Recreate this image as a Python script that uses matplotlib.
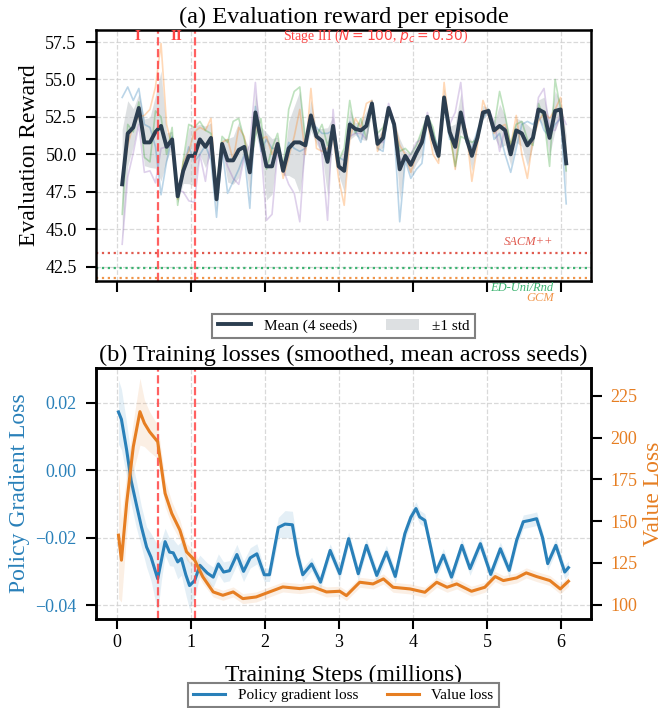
import numpy as np
import matplotlib
matplotlib.use("Agg")
import matplotlib.pyplot as plt

plt.rcParams["font.family"] = ["Liberation Serif", "DejaVu Serif"]
plt.rcParams["axes.linewidth"] = 1.8

# ---- (a) evaluation reward, one value per eval point, 4 seeds ----
EVAL_START, EVAL_END, N_EVAL = 0.07, 6.07, 81

seed_blue = [53.8, 54.5, 53.6, 54.4, 52.0, 51.8, 50.5, 47.3, 49.5, 51.2,
             47.6, 49.0, 50.5, 49.5, 50.0, 50.6, 49.6, 45.8, 50.4, 47.4,
             48.2, 49.0, 50.0, 46.4, 53.2, 50.2, 51.0, 50.4, 50.4, 49.2,
             50.8, 50.4, 50.2, 50.4, 52.0, 51.8, 51.4, 51.4, 51.6, 49.8,
             49.6, 52.2, 51.6, 50.8, 52.2, 53.6, 50.4, 50.2, 53.2, 51.6,
             45.5, 49.6, 48.4, 49.0, 49.4, 52.4, 51.4, 50.4, 53.2, 51.0,
             51.0, 52.6, 50.8, 50.4, 51.6, 52.4, 53.0, 51.0, 51.4, 50.0,
             48.8, 50.4, 52.0, 52.2, 52.0, 52.6, 51.6, 51.2, 52.0, 52.4,
             46.7]
seed_orange = [48.2, 50.6, 52.0, 52.5, 52.6, 53.0, 54.5, 57.4, 52.0, 50.5,
               47.0, 49.5, 50.2, 51.5, 51.8, 51.6, 52.4, 47.0, 50.8, 51.0,
               49.6, 51.8, 51.2, 49.0, 52.0, 51.0, 51.2, 50.0, 50.8, 48.4,
               49.8, 51.2, 53.0, 50.0, 54.4, 50.4, 50.2, 50.4, 51.2, 48.4,
               46.6, 51.0, 52.4, 51.8, 53.4, 53.6, 50.2, 51.6, 53.0, 52.2,
               50.6, 50.0, 48.8, 50.0, 51.2, 52.2, 50.0, 49.4, 54.8, 51.6,
               49.0, 52.6, 51.6, 48.2, 50.6, 53.6, 52.6, 51.4, 51.8, 52.0,
               50.6, 52.6, 50.0, 48.4, 51.0, 52.2, 52.8, 52.4, 53.0, 53.8,
               50.0]
seed_green = [46.0, 52.0, 51.5, 53.5, 49.8, 49.5, 52.9, 52.5, 50.0, 51.8,
              46.6, 49.6, 52.0, 51.8, 52.2, 51.6, 51.4, 47.8, 51.2, 50.8,
              52.2, 52.4, 51.0, 49.2, 51.2, 52.4, 49.0, 50.4, 51.4, 49.0,
              53.0, 54.2, 54.5, 51.0, 52.0, 51.2, 52.0, 50.6, 51.8, 49.6,
              50.4, 53.6, 51.4, 52.4, 51.0, 53.2, 51.4, 51.8, 52.8, 52.0,
              50.2, 50.4, 50.0, 50.6, 51.6, 52.6, 51.8, 49.8, 53.6, 51.4,
              49.2, 51.2, 51.0, 50.8, 51.0, 52.6, 53.0, 51.8, 54.2, 52.6,
              50.6, 52.0, 52.2, 51.0, 50.6, 53.4, 52.4, 49.2, 55.0, 53.0,
              48.9]
seed_purple = [44.0, 48.5, 50.1, 52.0, 48.8, 48.9, 48.1, 50.4, 50.5, 50.5,
               47.6, 47.5, 46.9, 46.8, 50.0, 48.2, 51.0, 47.4, 50.4, 49.2,
               48.4, 48.0, 49.8, 50.6, 54.8, 50.4, 45.6, 46.0, 50.2, 49.0,
               48.0, 47.4, 45.5, 51.0, 52.0, 51.4, 50.0, 45.6, 53.0, 49.0,
               49.0, 51.2, 51.4, 51.4, 51.0, 53.2, 50.8, 50.8, 53.4, 52.2,
               49.7, 49.6, 50.0, 50.8, 51.0, 52.8, 50.8, 50.0, 53.6, 52.0,
               52.8, 54.8, 51.0, 50.2, 51.2, 52.6, 53.0, 52.2, 50.2, 51.8,
               50.0, 51.4, 51.4, 50.8, 50.8, 53.8, 54.4, 51.6, 51.6, 52.8,
               52.0]

baseline_names = ["SACM++", "ED-Uni/Rnd", "GCM"]
baseline_values = [43.4, 42.4, 41.75]
baseline_colors = ["#e05a4f", "#3cb371", "#f0954a"]

stage_bounds = [0.55, 1.05]

# ---- (b) smoothed training losses ----
pg_steps = [0.02, 0.06, 0.13, 0.19, 0.26, 0.33, 0.40, 0.46, 0.55, 0.60,
            0.65, 0.71, 0.76, 0.82, 0.87, 0.93, 0.98, 1.05, 1.12, 1.22,
            1.30, 1.37, 1.44, 1.52, 1.62, 1.71, 1.80, 1.89, 1.99, 2.06,
            2.12, 2.18, 2.27, 2.37, 2.44, 2.51, 2.63, 2.75, 2.88, 3.01,
            3.13, 3.26, 3.37, 3.51, 3.64, 3.76, 3.89, 3.97, 4.04, 4.09,
            4.16, 4.24, 4.31, 4.41, 4.52, 4.66, 4.77, 4.91, 5.05, 5.18,
            5.30, 5.40, 5.49, 5.58, 5.67, 5.75, 5.82, 5.93, 6.05, 6.10]
pg_loss = [0.0172, 0.0150, 0.0060, -0.0030, -0.0100, -0.0168, -0.0228, -0.0258, -0.0322, -0.0267,
           -0.0212, -0.0243, -0.0245, -0.0272, -0.0262, -0.0310, -0.0342, -0.0327, -0.0282, -0.0305,
           -0.0317, -0.0278, -0.0302, -0.0298, -0.0250, -0.0300, -0.0260, -0.0248, -0.0310, -0.0310,
           -0.0240, -0.0170, -0.0160, -0.0162, -0.0250, -0.0310, -0.0278, -0.0332, -0.0238, -0.0307,
           -0.0203, -0.0307, -0.0223, -0.0312, -0.0243, -0.0315, -0.0188, -0.0140, -0.0114, -0.0139,
           -0.0149, -0.0230, -0.0302, -0.0252, -0.0317, -0.0223, -0.0292, -0.0218, -0.0309, -0.0233,
           -0.0297, -0.0208, -0.0153, -0.0149, -0.0144, -0.0200, -0.0277, -0.0223, -0.0302, -0.0289]
pg_std = [0.0095, 0.009, 0.008, 0.007, 0.007, 0.006, 0.006, 0.007, 0.010, 0.006,
          0.004, 0.004, 0.004, 0.005, 0.005, 0.006, 0.007, 0.005, 0.003, 0.003,
          0.003, 0.003, 0.003, 0.003, 0.003, 0.003, 0.003, 0.003, 0.002, 0.002,
          0.003, 0.003, 0.004, 0.004, 0.003, 0.002, 0.002, 0.002, 0.002, 0.002,
          0.002, 0.002, 0.002, 0.002, 0.002, 0.002, 0.002, 0.002, 0.002, 0.002,
          0.002, 0.002, 0.002, 0.002, 0.002, 0.002, 0.002, 0.002, 0.002, 0.002,
          0.002, 0.002, 0.002, 0.002, 0.002, 0.002, 0.002, 0.002, 0.002, 0.002]

v_steps = [0.02, 0.06, 0.13, 0.22, 0.31, 0.37, 0.44, 0.55, 0.65, 0.74,
           0.85, 0.94, 1.05, 1.16, 1.30, 1.43, 1.57, 1.70, 1.88, 2.06,
           2.24, 2.47, 2.65, 2.83, 3.01, 3.10, 3.28, 3.46, 3.60, 3.73,
           3.96, 4.16, 4.32, 4.46, 4.59, 4.79, 4.97, 5.11, 5.22, 5.40,
           5.53, 5.67, 5.85, 5.99, 6.10]
v_loss = [141.6, 126.6, 160.6, 194.5, 215.5, 208.6, 203.5, 197.5, 166.6, 154.6,
          144.6, 131.6, 126.6, 116.6, 107.6, 105.6, 107.6, 103.6, 104.6, 107.6,
          110.6, 109.6, 110.6, 107.6, 108.0, 105.4, 113.4, 112.4, 115.4, 110.4,
          109.4, 107.4, 113.4, 110.4, 112.4, 108.0, 110.4, 116.8, 114.4, 116.0,
          119.0, 116.8, 114.4, 109.4, 114.0]
v_std = [38, 25, 18, 15, 20, 14, 12, 10, 8, 7,
         6, 5, 5, 4, 3, 3, 3, 3, 3, 3,
         3, 3, 3, 3, 3, 3, 3, 3, 3, 3,
         3, 3, 3, 3, 3, 3, 3, 3, 3, 3,
         3, 3, 3, 3, 3]

SEED_COLORS = ["#1f77b4", "#ff7f0e", "#2ca02c", "#9467bd"]
MEAN_COLOR = "#2c3e50"
PG_COLOR = "#2980b9"
V_COLOR = "#e67e22"
STAGE_COLOR = "#ff4545"


def style_axis(ax):
    ax.grid(True, linestyle="--", color="#d0d0d0", linewidth=0.9, alpha=0.8)
    ax.tick_params(direction="out", length=7, width=1.5, labelsize=13)
    ax.tick_params(axis="y", pad=7)
    ax.set_axisbelow(True)


fig, (ax1, ax2) = plt.subplots(2, 1, figsize=(6.61, 7.08), dpi=100, sharex=True)
fig.subplots_adjust(left=0.1452, right=0.894, top=0.9576, bottom=0.1257, hspace=0.347)

# ---------------- panel (a) ----------------
eval_x = np.linspace(EVAL_START, EVAL_END, N_EVAL)
seeds = np.array([seed_blue, seed_orange, seed_green, seed_purple])
mean = seeds.mean(axis=0)
std = seeds.std(axis=0)

for vals, c in zip(seeds, SEED_COLORS):
    ax1.plot(eval_x, vals, color=c, alpha=0.3, linewidth=1.2)
band = ax1.fill_between(eval_x, mean - std, mean + std, color="#bdc3c7", alpha=0.5,
                        linewidth=0, label="±1 std")
mean_line, = ax1.plot(eval_x, mean, color=MEAN_COLOR, linewidth=2.8, label="Mean (4 seeds)")

for name, val, c in zip(baseline_names, baseline_values, baseline_colors):
    ax1.axhline(val, color=c, linestyle=":", linewidth=1.6)
ax1.text(5.9, 44.15, "SACM++", color=baseline_colors[0], fontsize=9, style="italic",
         ha="right", va="center")
ax1.text(5.9, 41.05, "ED-Uni/Rnd", color=baseline_colors[1], fontsize=9, style="italic",
         ha="right", va="center")
ax1.text(5.9, 40.4, "GCM", color=baseline_colors[2], fontsize=9, style="italic",
         ha="right", va="center")

for b in stage_bounds:
    ax1.axvline(b, color=STAGE_COLOR, linestyle="--", linewidth=1.6, alpha=0.85)
ax1.text(0.27, 57.85, "I", color=STAGE_COLOR, fontsize=11, fontweight="bold", ha="center", va="center")
ax1.text(0.80, 57.85, "II", color=STAGE_COLOR, fontsize=11, fontweight="bold", ha="center", va="center")
ax1.text(3.5, 57.85, r"Stage III ($N=100$, $p_c=0.30$)", color=STAGE_COLOR, fontsize=10,
         ha="center", va="center")

ax1.set_ylim(41.55, 58.3)
ax1.set_yticks([42.5, 45.0, 47.5, 50.0, 52.5, 55.0, 57.5])
ax1.set_ylabel("Evaluation Reward", fontsize=17)
ax1.set_title("(a) Evaluation reward per episode", fontsize=17.5, pad=5)
style_axis(ax1)
ax1.tick_params(axis="x", length=8)

leg1 = ax1.legend(handles=[mean_line, band], loc="upper center", bbox_to_anchor=(0.5, -0.10),
                  ncol=2, fontsize=11, fancybox=False, framealpha=1, edgecolor="#808080",
                  handlelength=2.2, columnspacing=1.9, borderpad=0.35)
leg1.get_frame().set_linewidth(1.5)

# ---------------- panel (b) ----------------
pg_arr, pg_sd = np.array(pg_loss), np.array(pg_std)
v_arr, v_sd = np.array(v_loss), np.array(v_std)

ax2.fill_between(pg_steps, pg_arr - pg_sd, pg_arr + pg_sd, color=PG_COLOR, alpha=0.12, linewidth=0)
pg_line, = ax2.plot(pg_steps, pg_arr, color=PG_COLOR, linewidth=2.2, label="Policy gradient loss")
for b in stage_bounds:
    ax2.axvline(b, color=STAGE_COLOR, linestyle="--", linewidth=1.6, alpha=0.85)

ax2.set_ylim(-0.0441, 0.0302)
ax2.set_yticks([-0.04, -0.02, 0.00, 0.02])
ax2.set_ylabel("Policy Gradient Loss", fontsize=17, color=PG_COLOR)
ax2.set_xlabel("Training Steps (millions)", fontsize=17, labelpad=10)
ax2.set_title("(b) Training losses (smoothed, mean across seeds)", fontsize=17.5, pad=5)
style_axis(ax2)
ax2.tick_params(axis="y", labelcolor=PG_COLOR)
ax2.set_xticks(range(7))

ax2r = ax2.twinx()
ax2r.fill_between(v_steps, v_arr - v_sd, v_arr + v_sd, color=V_COLOR, alpha=0.12, linewidth=0)
v_line, = ax2r.plot(v_steps, v_arr, color=V_COLOR, linewidth=2.2, label="Value loss")
ax2r.set_ylim(91.4, 241.6)
ax2r.set_yticks([100, 125, 150, 175, 200, 225])
ax2r.set_ylabel("Value Loss", fontsize=17, color=V_COLOR, labelpad=4)
ax2r.tick_params(direction="out", length=8, width=1.5, labelsize=13, labelcolor=V_COLOR, pad=6)

leg2 = ax2.legend(handles=[pg_line, v_line], loc="upper center", bbox_to_anchor=(0.5, -0.225),
                  ncol=2, fontsize=11, fancybox=False, framealpha=1, edgecolor="#808080",
                  handlelength=2.1, columnspacing=1.9, borderpad=0.35)
leg2.get_frame().set_linewidth(1.5)

fig.savefig("out.png", dpi=100)
